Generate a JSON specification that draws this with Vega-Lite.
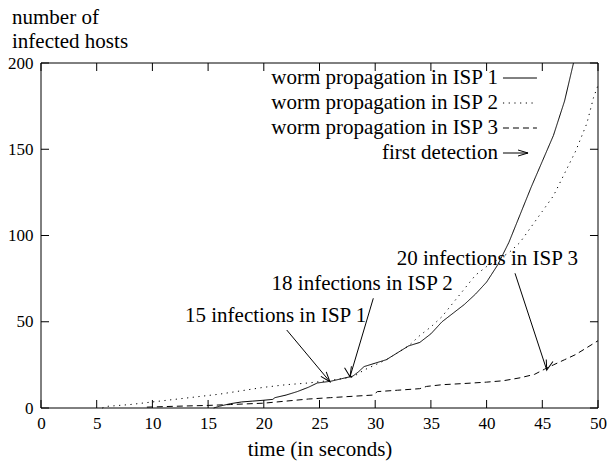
{
  "$schema": "https://vega.github.io/schema/vega-lite/v6.json",
  "width": 557,
  "height": 345,
  "autosize": {"type": "none"},
  "padding": {"left": 41, "top": 63, "right": 9, "bottom": 57},
  "background": "white",
  "config": {
    "view": {"stroke": null},
    "font": "Liberation Serif",
    "axis": {
      "domain": false, "ticks": false, "grid": false, "labelColor": "black", "labelFont": "Liberation Serif",
      "labelFontSize": 17, "titleColor": "black", "titleFont": "Liberation Serif",
      "titleFontSize": 21, "titleFontWeight": "normal", "labelFlush": false, "labelOverlap": false
    }
  },
  "datasets": {
    "curves": [
      {"series": "worm propagation in ISP 1", "t": 15.5, "v": 0},
      {"series": "worm propagation in ISP 1", "t": 16, "v": 1},
      {"series": "worm propagation in ISP 1", "t": 17, "v": 2.5},
      {"series": "worm propagation in ISP 1", "t": 18, "v": 3.5},
      {"series": "worm propagation in ISP 1", "t": 19, "v": 4},
      {"series": "worm propagation in ISP 1", "t": 20, "v": 4.5},
      {"series": "worm propagation in ISP 1", "t": 20.8, "v": 5},
      {"series": "worm propagation in ISP 1", "t": 21, "v": 6},
      {"series": "worm propagation in ISP 1", "t": 22, "v": 7.5},
      {"series": "worm propagation in ISP 1", "t": 23, "v": 9.5},
      {"series": "worm propagation in ISP 1", "t": 24, "v": 12},
      {"series": "worm propagation in ISP 1", "t": 24.8, "v": 14.5},
      {"series": "worm propagation in ISP 1", "t": 26, "v": 15.5},
      {"series": "worm propagation in ISP 1", "t": 27, "v": 17},
      {"series": "worm propagation in ISP 1", "t": 28, "v": 18.5},
      {"series": "worm propagation in ISP 1", "t": 28.5, "v": 21},
      {"series": "worm propagation in ISP 1", "t": 29, "v": 24},
      {"series": "worm propagation in ISP 1", "t": 30, "v": 26},
      {"series": "worm propagation in ISP 1", "t": 31, "v": 28},
      {"series": "worm propagation in ISP 1", "t": 32, "v": 32},
      {"series": "worm propagation in ISP 1", "t": 33, "v": 36},
      {"series": "worm propagation in ISP 1", "t": 34, "v": 38},
      {"series": "worm propagation in ISP 1", "t": 35, "v": 43},
      {"series": "worm propagation in ISP 1", "t": 36, "v": 50},
      {"series": "worm propagation in ISP 1", "t": 37, "v": 55},
      {"series": "worm propagation in ISP 1", "t": 38, "v": 60},
      {"series": "worm propagation in ISP 1", "t": 39, "v": 66},
      {"series": "worm propagation in ISP 1", "t": 40, "v": 73},
      {"series": "worm propagation in ISP 1", "t": 41, "v": 83},
      {"series": "worm propagation in ISP 1", "t": 42, "v": 96},
      {"series": "worm propagation in ISP 1", "t": 43, "v": 112},
      {"series": "worm propagation in ISP 1", "t": 44, "v": 128},
      {"series": "worm propagation in ISP 1", "t": 45, "v": 143},
      {"series": "worm propagation in ISP 1", "t": 46, "v": 158},
      {"series": "worm propagation in ISP 1", "t": 47, "v": 178},
      {"series": "worm propagation in ISP 1", "t": 47.8, "v": 200},
      {"series": "worm propagation in ISP 2", "t": 5.5, "v": 0},
      {"series": "worm propagation in ISP 2", "t": 6, "v": 1},
      {"series": "worm propagation in ISP 2", "t": 8, "v": 2},
      {"series": "worm propagation in ISP 2", "t": 10, "v": 3.5},
      {"series": "worm propagation in ISP 2", "t": 12, "v": 5},
      {"series": "worm propagation in ISP 2", "t": 14, "v": 6.5},
      {"series": "worm propagation in ISP 2", "t": 16, "v": 8},
      {"series": "worm propagation in ISP 2", "t": 18, "v": 10},
      {"series": "worm propagation in ISP 2", "t": 20, "v": 12},
      {"series": "worm propagation in ISP 2", "t": 22, "v": 13.5},
      {"series": "worm propagation in ISP 2", "t": 24, "v": 14.5},
      {"series": "worm propagation in ISP 2", "t": 26, "v": 16},
      {"series": "worm propagation in ISP 2", "t": 27, "v": 17},
      {"series": "worm propagation in ISP 2", "t": 28, "v": 18},
      {"series": "worm propagation in ISP 2", "t": 29, "v": 22},
      {"series": "worm propagation in ISP 2", "t": 30, "v": 25},
      {"series": "worm propagation in ISP 2", "t": 31, "v": 28},
      {"series": "worm propagation in ISP 2", "t": 32, "v": 32},
      {"series": "worm propagation in ISP 2", "t": 33, "v": 36},
      {"series": "worm propagation in ISP 2", "t": 34, "v": 42},
      {"series": "worm propagation in ISP 2", "t": 35, "v": 47},
      {"series": "worm propagation in ISP 2", "t": 36, "v": 53},
      {"series": "worm propagation in ISP 2", "t": 37, "v": 61},
      {"series": "worm propagation in ISP 2", "t": 38, "v": 69},
      {"series": "worm propagation in ISP 2", "t": 39, "v": 77},
      {"series": "worm propagation in ISP 2", "t": 40, "v": 82},
      {"series": "worm propagation in ISP 2", "t": 41, "v": 86},
      {"series": "worm propagation in ISP 2", "t": 42, "v": 90},
      {"series": "worm propagation in ISP 2", "t": 43, "v": 96},
      {"series": "worm propagation in ISP 2", "t": 44, "v": 105},
      {"series": "worm propagation in ISP 2", "t": 45, "v": 114},
      {"series": "worm propagation in ISP 2", "t": 46, "v": 123},
      {"series": "worm propagation in ISP 2", "t": 47, "v": 136},
      {"series": "worm propagation in ISP 2", "t": 48, "v": 149},
      {"series": "worm propagation in ISP 2", "t": 49, "v": 165},
      {"series": "worm propagation in ISP 2", "t": 49.6, "v": 180},
      {"series": "worm propagation in ISP 2", "t": 50, "v": 187},
      {"series": "worm propagation in ISP 3", "t": 9.5, "v": 0.5},
      {"series": "worm propagation in ISP 3", "t": 12, "v": 1},
      {"series": "worm propagation in ISP 3", "t": 15, "v": 1.5},
      {"series": "worm propagation in ISP 3", "t": 17, "v": 2},
      {"series": "worm propagation in ISP 3", "t": 20, "v": 2.8},
      {"series": "worm propagation in ISP 3", "t": 22, "v": 4},
      {"series": "worm propagation in ISP 3", "t": 24, "v": 5.2},
      {"series": "worm propagation in ISP 3", "t": 26, "v": 6},
      {"series": "worm propagation in ISP 3", "t": 28, "v": 6.8},
      {"series": "worm propagation in ISP 3", "t": 29.8, "v": 7.5},
      {"series": "worm propagation in ISP 3", "t": 30.2, "v": 9.5},
      {"series": "worm propagation in ISP 3", "t": 32, "v": 10.3},
      {"series": "worm propagation in ISP 3", "t": 34, "v": 11.2},
      {"series": "worm propagation in ISP 3", "t": 34.6, "v": 12.5},
      {"series": "worm propagation in ISP 3", "t": 36, "v": 13.5},
      {"series": "worm propagation in ISP 3", "t": 38, "v": 14.2},
      {"series": "worm propagation in ISP 3", "t": 40, "v": 15},
      {"series": "worm propagation in ISP 3", "t": 41.5, "v": 15.8},
      {"series": "worm propagation in ISP 3", "t": 43, "v": 17.5},
      {"series": "worm propagation in ISP 3", "t": 44.3, "v": 19.5},
      {"series": "worm propagation in ISP 3", "t": 45.2, "v": 22.5},
      {"series": "worm propagation in ISP 3", "t": 46, "v": 25},
      {"series": "worm propagation in ISP 3", "t": 47, "v": 28},
      {"series": "worm propagation in ISP 3", "t": 48, "v": 31},
      {"series": "worm propagation in ISP 3", "t": 49, "v": 35},
      {"series": "worm propagation in ISP 3", "t": 50, "v": 39}
    ],
    "arrows": [
      {"id": 1, "series": "first detection", "t": 22.06, "v": 45.2, "t2": 25.94, "v2": 15.2},
      {"id": 2, "series": "first detection", "t": 29.83, "v": 63.6, "t2": 27.74, "v2": 18.1},
      {"id": 3, "series": "first detection", "t": 42.55, "v": 78.1, "t2": 45.4, "v2": 22.0}
    ],
    "labels": [
      {"text": "15 infections in ISP 1", "t": 12.93, "v": 50.0},
      {"text": "18 infections in ISP 2", "t": 20.7, "v": 68.4},
      {"text": "20 infections in ISP 3", "t": 31.93, "v": 82.9}
    ],
    "xticks": [{"t": 0}, {"t": 5}, {"t": 10}, {"t": 15}, {"t": 20}, {"t": 25}, {"t": 30}, {"t": 35}, {"t": 40}, {"t": 45}, {"t": 50}],
    "yticks": [{"v": 0}, {"v": 50}, {"v": 100}, {"v": 150}, {"v": 200}],
    "legendrows": [
      {"series": "worm propagation in ISP 1"},
      {"series": "worm propagation in ISP 2"},
      {"series": "worm propagation in ISP 3"},
      {"series": "first detection"}
    ]
  },
  "layer": [
    {
      "layer": [
        {
          "data": {"values": [{}]},
          "mark": {"type": "rect", "filled": false, "color": "black", "strokeWidth": 1},
          "encoding": {
            "x": {"datum": 0, "type": "quantitative", "scale": {"domain": [0, 50], "nice": false, "zero": false},
              "axis": {"orient": "bottom", "values": [0,5,10,15,20,25,30,35,40,45,50], "labelPadding": 7,
                "labelFont": "Liberation Serif", "labelFontSize": 17, "labelColor": "black",
                "titleFont": "Liberation Serif", "titleFontSize": 21, "titleFontWeight": "normal", "titleColor": "black",
                "title": "time (in seconds)", "titleY": 47, "titleBaseline": "alphabetic"}},
            "x2": {"datum": 50},
            "y": {"datum": 0, "type": "quantitative", "scale": {"domain": [0, 200], "nice": false},
              "axis": {"orient": "left", "values": [0,50,100,150,200], "labelPadding": 8,
                "labelFont": "Liberation Serif", "labelFontSize": 17, "labelColor": "black",
                "titleFont": "Liberation Serif", "titleFontSize": 21, "titleFontWeight": "normal", "titleColor": "black",
                "title": ["number of", "infected hosts"], "titleAngle": 0, "titleAlign": "left",
                "titleBaseline": "alphabetic", "titleX": -29.5, "titleY": -40, "titleLineHeight": 24}},
            "y2": {"datum": 200}
          }
        },
        {
          "data": {"name": "xticks"},
          "mark": {"type": "rule", "color": "black", "strokeWidth": 1},
          "encoding": {"x": {"field": "t", "type": "quantitative"}, "y": {"datum": 0, "type": "quantitative"}, "y2": {"datum": 4.64}}
        },
        {
          "data": {"name": "xticks"},
          "mark": {"type": "rule", "color": "black", "strokeWidth": 1},
          "encoding": {"x": {"field": "t", "type": "quantitative"}, "y": {"datum": 200, "type": "quantitative"}, "y2": {"datum": 195.36}}
        },
        {
          "data": {"name": "yticks"},
          "mark": {"type": "rule", "color": "black", "strokeWidth": 1},
          "encoding": {"y": {"field": "v", "type": "quantitative"}, "x": {"datum": 0, "type": "quantitative"}, "x2": {"datum": 0.72}}
        },
        {
          "data": {"name": "yticks"},
          "mark": {"type": "rule", "color": "black", "strokeWidth": 1},
          "encoding": {"y": {"field": "v", "type": "quantitative"}, "x": {"datum": 50, "type": "quantitative"}, "x2": {"datum": 49.28}}
        },
        {
          "data": {"name": "curves"},
          "mark": {"type": "line", "color": "black", "strokeWidth": 1},
          "encoding": {
            "x": {"field": "t", "type": "quantitative"},
            "y": {"field": "v", "type": "quantitative"},
            "strokeDash": {"field": "series", "type": "nominal",
              "scale": {"domain": ["worm propagation in ISP 1", "worm propagation in ISP 2", "worm propagation in ISP 3", "first detection"],
                        "range": [[1, 0], [1.2, 4.5], [6, 4], [1, 0]]},
              "legend": null}
          }
        },
        {
          "data": {"name": "arrows"},
          "mark": {"type": "rule", "color": "black", "strokeWidth": 1},
          "encoding": {
            "x": {"field": "t", "type": "quantitative"},
            "y": {"field": "v", "type": "quantitative"},
            "x2": {"field": "t2"},
            "y2": {"field": "v2"}
          }
        },
        {
          "data": {"name": "arrows"},
          "mark": {"type": "point", "shape": "M-1,-0.35L0,0L-1,0.35", "filled": false, "color": "black", "strokeWidth": 1, "size": 400, "opacity": 1},
          "encoding": {
            "x": {"field": "t2", "type": "quantitative"},
            "y": {"field": "v2", "type": "quantitative"},
            "angle": {"field": "id", "type": "ordinal", "scale": {"domain": [1, 2, 3], "range": [50, 106.5, 71.85]}, "legend": null}
          }
        },
        {
          "data": {"name": "labels"},
          "mark": {"type": "text", "align": "left", "baseline": "alphabetic", "font": "Liberation Serif", "fontSize": 21, "color": "black"},
          "encoding": {
            "x": {"field": "t", "type": "quantitative"},
            "y": {"field": "v", "type": "quantitative"},
            "text": {"field": "text"}
          }
        }
      ]
    },
    {
      "data": {"name": "legendrows"},
      "encoding": {
        "y": {"field": "series", "type": "nominal", "axis": null,
          "scale": {"type": "point", "domain": ["worm propagation in ISP 1", "worm propagation in ISP 2", "worm propagation in ISP 3", "first detection"], "range": [15, 90], "padding": 0}}
      },
      "layer": [
        {
          "mark": {"type": "text", "align": "right", "baseline": "middle", "font": "Liberation Serif", "fontSize": 21, "color": "black"},
          "encoding": {"x": {"datum": 41.02, "type": "quantitative"}, "text": {"field": "series"}}
        },
        {
          "transform": [{"filter": "datum.series !== 'first detection'"}],
          "mark": {"type": "rule", "color": "black", "strokeWidth": 1},
          "encoding": {"x": {"datum": 41.47, "type": "quantitative"}, "x2": {"datum": 44.52},
            "strokeDash": {"field": "series", "type": "nominal", "legend": null}}
        },
        {
          "transform": [{"filter": "datum.series === 'first detection'"}],
          "mark": {"type": "rule", "color": "black", "strokeWidth": 1},
          "encoding": {"x": {"datum": 41.47, "type": "quantitative"}, "x2": {"datum": 43.72}}
        },
        {
          "transform": [{"filter": "datum.series === 'first detection'"}],
          "mark": {"type": "point", "shape": "M-1,-0.3L0,0L-1,0.3", "filled": false, "color": "black", "strokeWidth": 1, "size": 400, "opacity": 1},
          "encoding": {"x": {"datum": 43.72, "type": "quantitative"}}
        }
      ]
    }
  ],
  "resolve": {"scale": {"y": "independent"}}
}
